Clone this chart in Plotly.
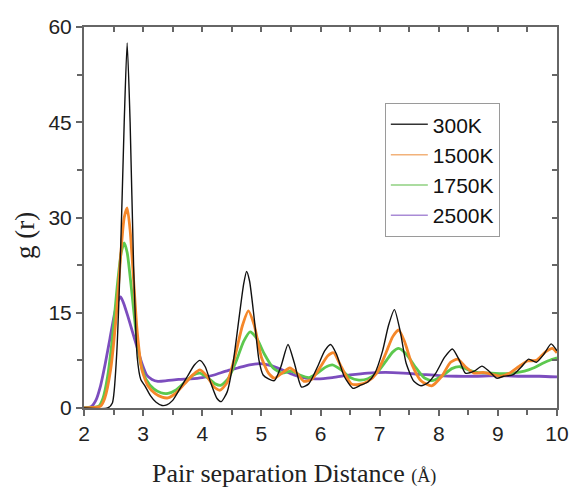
import plotly.graph_objects as go

# ---- data ----
x_300 = [2.0, 2.40, 2.48, 2.55, 2.62, 2.68, 2.73, 2.78, 2.84, 2.90, 2.96, 3.03, 3.12, 3.22, 3.32, 3.40,
         3.50, 3.62, 3.75, 3.87, 3.96, 4.05, 4.15, 4.25, 4.32, 4.42, 4.52, 4.62, 4.70, 4.75, 4.80, 4.88,
         4.96, 5.03, 5.12, 5.22, 5.33, 5.45, 5.56, 5.68, 5.80, 5.95, 6.07, 6.17, 6.27, 6.40, 6.55, 6.68,
         6.80, 6.92, 7.05, 7.15, 7.25, 7.35, 7.45, 7.58, 7.70, 7.82, 7.95, 8.10, 8.23, 8.35, 8.45, 8.60,
         8.73, 8.85, 8.98, 9.10, 9.25, 9.40, 9.52, 9.65, 9.78, 9.90, 10.0]
y_300 = [0, 0, 0.8, 8, 25, 45, 57.5, 45, 22, 8, 4.5, 3.5, 2.0, 0.9, 0.4, 0.5,
         1.2, 3.0, 5.0, 6.8, 7.5, 6.5, 3.8, 1.5, 1.0, 2.5, 7, 14, 19.5, 21.5, 20, 14,
         7.5, 5.2, 4.6, 4.3, 6.5, 10, 7, 3.3, 3.8, 6.5, 9, 10, 8.5, 5, 3.1, 3.6,
         4.1, 5.5, 9, 13, 15.5, 12, 7, 4.2, 3.5, 4.0, 5.5, 8, 9.3, 7.5, 5.5, 5.8,
         6.6, 5.8, 4.7, 5.0, 5.2, 6.5, 7.7, 7.2, 8.5, 10.1, 9.0]

x_1500 = [2.0, 2.28, 2.35, 2.45, 2.55, 2.62, 2.68, 2.73, 2.78, 2.84, 2.90, 2.98, 3.08, 3.20, 3.32, 3.42,
          3.55, 3.70, 3.85, 3.96, 4.08, 4.20, 4.30, 4.42, 4.55, 4.68, 4.78, 4.88, 5.00, 5.12, 5.22, 5.35,
          5.48, 5.60, 5.72, 5.85, 6.00, 6.12, 6.22, 6.35, 6.52, 6.65, 6.80, 6.95, 7.10, 7.22, 7.32, 7.42,
          7.55, 7.70, 7.88, 8.05, 8.20, 8.32, 8.45, 8.60, 8.75, 8.90, 9.05, 9.20, 9.35, 9.50, 9.65, 9.80,
          9.92, 10.0]
y_1500 = [0, 0.3, 1.5, 6, 15, 24, 30, 31.5, 28, 20, 12, 6, 3.5, 2.3, 1.7, 1.6,
          2.3, 3.8, 5.3, 6.0, 5, 3.3, 2.8, 4, 8, 13, 15.3, 13, 8, 5.5, 4.7, 5.5,
          6.3, 5.5, 4.2, 4.5, 6.5, 8.2, 8.7, 6.5, 3.8, 3.7, 4.2, 5.5, 8.5, 11.2, 12.3, 10.5,
          6.8, 4.3, 3.5, 5.0, 7.2, 7.7, 6.5, 5.5, 5.6, 5.3, 5.0, 5.5, 6.5, 7.4, 7.5, 8.8,
          9.4, 8.7]

x_1750 = [2.0, 2.25, 2.32, 2.40, 2.48, 2.56, 2.63, 2.68, 2.73, 2.80, 2.88, 2.96, 3.05, 3.18, 3.30, 3.42,
          3.55, 3.70, 3.85, 3.96, 4.10, 4.22, 4.32, 4.45, 4.58, 4.70, 4.81, 4.92, 5.05, 5.20, 5.35, 5.50,
          5.65, 5.80, 5.95, 6.08, 6.20, 6.35, 6.50, 6.65, 6.80, 6.95, 7.10, 7.22, 7.32, 7.45, 7.60, 7.75,
          7.88, 8.05, 8.22, 8.36, 8.50, 8.65, 8.85, 9.05, 9.25, 9.45, 9.60, 9.75, 9.90, 10.0]
y_1750 = [0, 0.3, 1.5, 5, 11, 19, 24.5, 26, 24.5, 19, 12, 7, 4.5, 3.0, 2.4, 2.3,
          2.8, 4.0, 5.2, 5.5, 4.7, 3.8, 3.6, 4.8, 7.5, 10.5, 12.0, 11, 8.5, 6.3, 5.5, 5.8,
          5.2, 4.8, 5.5, 6.4, 6.8, 6, 4.8, 4.4, 4.6, 5.5, 7.3, 8.8, 9.4, 8.5, 6.5, 4.8,
          4.3, 5.0, 6.2, 6.5, 6.0, 5.6, 5.5, 5.4, 5.5, 5.8, 6.3, 7.0, 7.6, 7.9]

x_2500 = [2.0, 2.12, 2.20, 2.28, 2.36, 2.44, 2.52, 2.58, 2.62, 2.67, 2.74, 2.82, 2.90, 2.98, 3.06, 3.15,
          3.25, 3.40, 3.60, 3.80, 4.00, 4.20, 4.40, 4.60, 4.80, 4.98, 5.15, 5.35, 5.55, 5.75, 5.95, 6.20,
          6.50, 6.80, 7.10, 7.40, 7.70, 8.00, 8.30, 8.60, 9.00, 9.40, 9.70, 10.0]
y_2500 = [0, 0.2, 1.2, 3.5, 7, 11, 15, 17, 17.5, 16.5, 14.5, 12, 9.5, 7, 5.2, 4.5,
          4.2, 4.3, 4.5, 4.6, 4.8, 5.2, 5.8, 6.3, 6.8, 7.0, 6.7, 6.0, 5.2, 4.7, 4.6, 4.8,
          5.2, 5.5, 5.6, 5.5, 5.3, 5.1, 5.0, 5.0, 5.1, 5.0, 5.0, 4.9]

names = ["300K", "1500K", "1750K", "2500K"]
colors = ["#111111", "#F5872A", "#5CC84E", "#7C4DBE"]
legend_colors = ["#333333", "#F2B27A", "#8FD080", "#A98BD6"]
widths = [1.4, 2.8, 2.8, 2.8]
xs = [x_300, x_1500, x_1750, x_2500]
ys = [y_300, y_1500, y_1750, y_2500]

x_ticks = [2, 3, 4, 5, 6, 7, 8, 9, 10]
y_ticks = [0, 15, 30, 45, 60]

fig = go.Figure()
for i in [3, 2, 1, 0]:
    fig.add_trace(go.Scatter(x=xs[i], y=ys[i], mode="lines", name=names[i], showlegend=False,
                             line=dict(color=colors[i], width=widths[i], shape="spline", smoothing=0.6)))
# thin legend samples (no data of their own)
for i in range(4):
    fig.add_trace(go.Scatter(x=[None], y=[None], mode="lines", name=names[i],
                             line=dict(color=legend_colors[i], width=1.5), legendrank=i + 1))

axis_col = "#666666"
tickfont = dict(family="Liberation Sans, Arial", size=21, color="#222222")
serif = "Liberation Serif, Times New Roman"

fig.update_layout(
    width=571, height=488,
    margin=dict(l=84, r=14, t=27, b=80, autoexpand=False),
    plot_bgcolor="white", paper_bgcolor="white",
    showlegend=True,
    legend=dict(x=0.636, y=0.80, xanchor="left", yanchor="top",
                bordercolor="#9a9a9a", borderwidth=1, bgcolor="white",
                font=dict(family="Liberation Sans, Arial", size=21, color="#111111"),
                tracegroupgap=0, itemwidth=37),
    xaxis=dict(range=[2, 10], tickvals=x_ticks, ticktext=[str(v) for v in x_ticks],
               showline=True, linecolor=axis_col, linewidth=2, ticks="outside", ticklen=6,
               tickwidth=1.5, tickcolor=axis_col, showgrid=False, zeroline=False,
               minor=dict(ticks="outside", dtick=0.5, ticklen=5, tickwidth=1.5, tickcolor=axis_col),
               tickfont=tickfont),
    yaxis=dict(range=[0, 60], tickvals=y_ticks, ticktext=[str(v) for v in y_ticks],
               showline=True, linecolor=axis_col, linewidth=2, ticks="outside", ticklen=6,
               tickwidth=1.5, tickcolor=axis_col, showgrid=False, zeroline=False,
               minor=dict(ticks="outside", dtick=7.5, ticklen=5, tickwidth=1.5, tickcolor=axis_col),
               tickfont=tickfont),
    xaxis2=dict(range=[2, 10], overlaying="x", side="top", anchor="y", showticklabels=False,
                showline=True, linecolor=axis_col, linewidth=2, ticks="inside", ticklen=5,
                tickwidth=1.5, tickcolor=axis_col, tickvals=x_ticks, showgrid=False, zeroline=False,
                minor=dict(ticks="inside", dtick=0.5, ticklen=5, tickwidth=1.5, tickcolor=axis_col)),
    yaxis2=dict(range=[0, 60], overlaying="y", side="right", anchor="x", showticklabels=False,
                showline=True, linecolor=axis_col, linewidth=2, ticks="inside", ticklen=5,
                tickwidth=1.5, tickcolor=axis_col, tickvals=y_ticks, showgrid=False, zeroline=False,
                minor=dict(ticks="inside", dtick=7.5, ticklen=5, tickwidth=1.5, tickcolor=axis_col)),
    annotations=[
        dict(text="Pair separation Distance <span style='font-size:18px'>(Å)</span>",
             xref="paper", yref="paper", x=(294 - 84) / 473, y=-(473 - 408) / 381,
             xanchor="center", yanchor="middle", showarrow=False,
             font=dict(family=serif, size=26, color="#222222")),
        dict(text="g (r)", xref="paper", yref="paper", x=-(84 - 25) / 473, y=(408 - 236) / 381,
             xanchor="center", yanchor="middle", textangle=-90, showarrow=False,
             font=dict(family=serif, size=27, color="#222222")),
    ],
)
# invisible trace bound to the mirror axes so they render
fig.add_trace(go.Scatter(x=[2, 10], y=[0, 60], xaxis="x2", yaxis="y2", mode="lines",
                         line=dict(width=0), showlegend=False, hoverinfo="skip"))

fig.write_html("out.html")
